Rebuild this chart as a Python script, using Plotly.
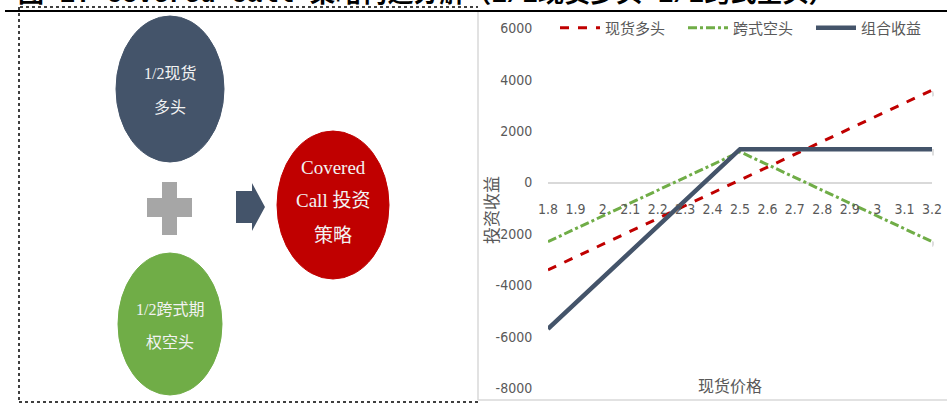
import plotly.graph_objects as go

W, H = 947, 406

# data
prices = ["1.8", "1.9", "2", "2.1", "2.2", "2.3", "2.4", "2.5",
          "2.6", "2.7", "2.8", "2.9", "3", "3.1", "3.2"]
spot_long = [-3400, -2900, -2400, -1900, -1400, -900, -400, 100,
             600, 1100, 1600, 2100, 2600, 3100, 3600]
straddle_short = [-2300, -1800, -1300, -800, -300, 200, 700, 1200,
                  700, 200, -300, -800, -1300, -1800, -2300]
combined = [-5700, -4700, -3700, -2700, -1700, -700, 300, 1300,
            1300, 1300, 1300, 1300, 1300, 1300, 1300]
y_ticks = [6000, 4000, 2000, 0, -2000, -4000, -6000, -8000]
y_ticktext = ["6000", "4000", "2000", "0", "-2000", "-4000", "-6000", "-8000"]

SERIES = [
    ("现货多头", spot_long, "#C00000", 3, "dash"),
    ("跨式空头", straddle_short, "#70AD47", 3, "dashdot"),
    ("组合收益", combined, "#44546A", 4.5, "solid"),
]
GRAY_TXT = "#595959"
CJK = "Noto Sans CJK SC"
NARROW = "Liberation Sans Narrow, DejaVu Sans Condensed, Liberation Sans, " + CJK
SERIF = "Liberation Serif, " + CJK


def px(v):
    return v / W


def py(v):
    return 1 - v / H


fig = go.Figure()
# soft drop shadow (Excel style) on a hidden copy of the axes, shifted a few px
for name, vals, color, width, dash in SERIES:
    fig.add_trace(go.Scatter(
        x=prices, y=vals, mode="lines", showlegend=False, hoverinfo="skip",
        line=dict(color="rgba(0,0,0,0.13)", width=width + 2, dash=dash),
        xaxis="x", yaxis="y"))
for name, vals, color, width, dash in SERIES:
    fig.add_trace(go.Scatter(
        x=prices, y=vals, name=name, mode="lines",
        line=dict(color=color, width=width, dash=dash),
        xaxis="x2", yaxis="y2"))

ydom = [py(388), py(28.5)]
xdom = [px(548), px(932)]
x_pos = ydom[0] + (8 / 14) * (ydom[1] - ydom[0])

fig.update_layout(
    width=W, height=H,
    margin=dict(l=0, r=0, t=0, b=0, autoexpand=False),
    paper_bgcolor="white", plot_bgcolor="white",
    showlegend=True,
    legend=dict(orientation="h", x=px(555), y=py(28), yanchor="middle", xanchor="left",
                font=dict(family=CJK, size=15, color=GRAY_TXT),
                bgcolor="rgba(0,0,0,0)", entrywidth=73, entrywidthmode="pixels",
                itemwidth=40),
    xaxis=dict(type="category", domain=[px(550), px(934)], range=[0, 14],
               anchor="y", visible=False, automargin=False),
    yaxis=dict(domain=[py(391), py(31.5)], range=[-8000, 6000], anchor="x",
               visible=False, automargin=False),
    xaxis2=dict(type="category", domain=xdom, range=[0, 14],
                anchor="free", position=x_pos, automargin=False,
                showgrid=False, zeroline=False, showline=False,
                ticks="outside", ticklen=14, tickcolor="rgba(0,0,0,0)",
                tickfont=dict(family=NARROW, size=14, color=GRAY_TXT)),
    yaxis2=dict(domain=ydom, range=[-8000, 6000], anchor="x2",
                tickvals=y_ticks, ticktext=y_ticktext, automargin=False,
                showgrid=False, zeroline=True, zerolinecolor="#D9D9D9", zerolinewidth=1.5,
                showline=False,
                ticks="outside", ticklen=12, tickcolor="rgba(0,0,0,0)",
                tickfont=dict(family=NARROW, size=14, color=GRAY_TXT)),
)

shapes = []
# frame lines
shapes.append(dict(type="line", xref="paper", yref="paper",
                   x0=px(5), x1=1, y0=py(11), y1=py(11),
                   line=dict(color="black", width=2)))
for (x0, y0, x1, y1) in [(20, 7, 478, 7), (19, 7, 19, 402), (19, 402, 480, 402)]:
    shapes.append(dict(type="line", xref="paper", yref="paper",
                       x0=px(x0), x1=px(x1), y0=py(y0), y1=py(y1),
                       line=dict(color="black", width=1.5, dash="dot")))
for (x0, y0, x1, y1) in [(478, 12, 478, 400), (478, 400, 947, 400)]:
    shapes.append(dict(type="line", xref="paper", yref="paper",
                       x0=px(x0), x1=px(x1), y0=py(y0), y1=py(y1),
                       line=dict(color="#D9D9D9", width=1.5)))

# diagram: ellipses
for (cx, cy, rx, ry, color) in [(170, 89, 54, 73, "#44546A"),
                                (333, 205, 56, 74, "#C00000"),
                                (170, 324, 52, 71, "#70AD47")]:
    shapes.append(dict(type="circle", xref="paper", yref="paper",
                       x0=px(cx - rx), x1=px(cx + rx), y0=py(cy + ry), y1=py(cy - ry),
                       fillcolor=color, line=dict(color=color, width=1), layer="above"))
# plus sign
for (x0, y0, x1, y1) in [(162, 182, 177, 235), (147, 198, 192, 217)]:
    shapes.append(dict(type="rect", xref="paper", yref="paper",
                       x0=px(x0), x1=px(x1), y0=py(y1), y1=py(y0),
                       fillcolor="#A6A6A6", line=dict(width=0), layer="above"))
# arrow
pts = [(236, 191), (252, 191), (252, 183), (265, 207), (252, 231), (252, 223), (236, 223)]
path = "M " + " L ".join(f"{px(x):.5f},{py(y):.5f}" for x, y in pts) + " Z"
shapes.append(dict(type="path", xref="paper", yref="paper", path=path,
                   fillcolor="#44546A", line=dict(width=0), layer="above"))
fig.update_layout(shapes=shapes)

anns = []
# title, cut off at the top edge as in the source image
anns.append(dict(text="<b>图 1: Covered Call 策略构造分解（1/2现货多头+1/2跨式空头）</b>",
                 xref="paper", yref="paper", x=px(16), y=py(12),
                 xanchor="left", yanchor="bottom", showarrow=False,
                 font=dict(family="Liberation Mono, " + CJK, size=26, color="black")))
# diagram labels
for (txt, x, y, size) in [("1/2现货", 170, 73, 16), ("多头", 170, 107, 16),
                          ("Covered", 333, 167, 19), ("Call 投资", 333, 200, 19),
                          ("策略", 333, 236, 19),
                          ("1/2跨式期", 170, 309, 16), ("权空头", 170, 342, 16)]:
    anns.append(dict(text=txt, xref="paper", yref="paper", x=px(x), y=py(y),
                     xanchor="center", yanchor="middle", showarrow=False,
                     font=dict(family=SERIF, size=size, color="#F2F2F2")))
# axis titles
anns.append(dict(text="投资收益", xref="paper", yref="paper", x=px(490), y=py(210),
                 textangle=-90, showarrow=False, xanchor="center", yanchor="middle",
                 font=dict(family=CJK, size=17, color=GRAY_TXT)))
anns.append(dict(text="现货价格", xref="paper", yref="paper", x=px(730), y=py(385),
                 showarrow=False, xanchor="center", yanchor="middle",
                 font=dict(family=CJK, size=16, color=GRAY_TXT)))
fig.update_layout(annotations=anns)

fig.write_html("out.html", config={"displayModeBar": False},
               post_script="document.body.style.margin = '0';")
